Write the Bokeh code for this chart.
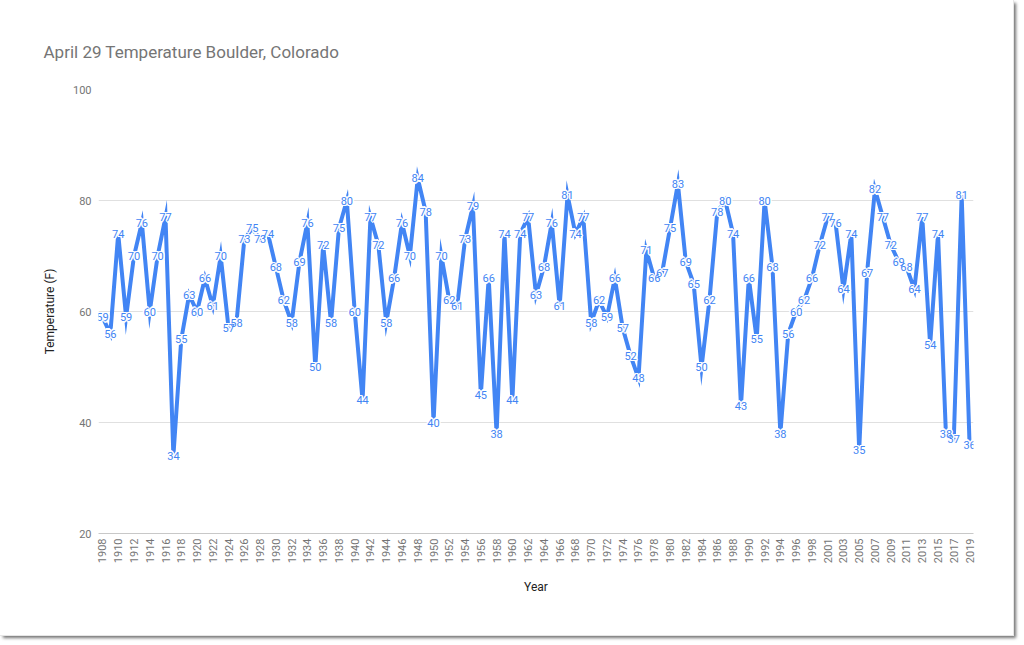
from bokeh.plotting import figure
from bokeh.models import ColumnDataSource, FixedTicker, Range1d
from bokeh.core.properties import value
from bokeh.embed import file_html
from bokeh.resources import INLINE
import math

years = [str(y) for y in range(1908, 1999)] + ["1999"] + [str(y) for y in range(2001, 2020)]
temps = [
    59, 56, 74, 59, 70, 76, 60, 70, 77, 34,   # 1908-1917
    55, 63, 60, 66, 61, 70, 57, 58, 73, 75,   # 1918-1927
    73, 74, 68, 62, 58, 69, 76, 50, 72, 58,   # 1928-1937
    75, 80, 60, 44, 77, 72, 58, 66, 76, 70,   # 1938-1947
    84, 78, 40, 70, 62, 61, 73, 79, 45, 66,   # 1948-1957
    38, 74, 44, 74, 77, 63, 68, 76, 61, 81,   # 1958-1967
    74, 77, 58, 62, 59, 66, 57, 52, 48, 71,   # 1968-1977
    66, 67, 75, 83, 69, 65, 50, 62, 78, 80,   # 1978-1987
    74, 43, 66, 55, 80, 68, 38, 56, 60, 62,   # 1988-1997
    66, 72,                                   # 1998, 1999
    77, 76, 64, 74, 35, 67, 82, 77, 72, 69,   # 2001-2010
    68, 64, 77, 54, 74, 38, 37, 81, 36,       # 2011-2019
]
y_ticks = [20, 40, 60, 80, 100]
title_text = "April 29 Temperature Boulder, Colorado"
x_title = "Year"
y_title = "Temperature (F)"

idx = list(range(len(years)))
source = ColumnDataSource(dict(x=idx, y=temps, label=[str(t) for t in temps]))

BLUE = "#4285F4"
FONT = "Roboto"

p = figure(width=1013, height=635, output_backend="svg", toolbar_location=None,
           x_range=Range1d(-0.5, len(years) - 0.5), y_range=Range1d(20, 100),
           min_border_left=98, min_border_right=40, min_border_top=89, min_border_bottom=102)
p.styles = {"box-shadow": "0 0 0 1px #e6e6e6, 3px 3px 3px rgba(0,0,0,0.55)"}
p.outline_line_color = None
p.background_fill_color = "white"
p.border_fill_color = "white"

p.title.text = title_text
p.title.text_font = FONT
p.title.text_font_size = "17px"
p.title.text_font_style = "normal"
p.title.text_color = "#757575"
p.title.offset = -55
p.title.standoff = 55

p.line(x="x", y="y", source=source, line_color=BLUE, line_width=4, line_join="miter")

offs = [(-1.5, 0), (1.5, 0), (0, -1.5), (0, 1.5), (-1, -1), (1, 1), (-1, 1), (1, -1)]
for dx, dy in offs:
    p.text(x="x", y="y", text="label", source=source, x_offset=dx, y_offset=dy,
           text_color="white", text_font=value(FONT), text_font_size="11px",
           text_align="center", text_baseline="middle")
p.text(x="x", y="y", text="label", source=source, text_color=BLUE,
       text_font=value(FONT), text_font_size="11px",
       text_align="center", text_baseline="middle")

# axes
p.xgrid.grid_line_color = None
p.ygrid.grid_line_color = "#e0e0e0"
p.ygrid.grid_line_width = 1

p.yaxis.ticker = FixedTicker(ticks=y_ticks)
p.yaxis.axis_line_color = None
p.yaxis.major_tick_line_color = None
p.yaxis.minor_tick_line_color = None
p.yaxis.major_tick_out = 0
p.yaxis.minor_tick_out = 0
p.yaxis.major_label_text_font = FONT
p.yaxis.major_label_text_font_size = "11px"
p.yaxis.major_label_text_color = "#757575"
p.yaxis.major_label_standoff = 7
p.yaxis.axis_label = y_title
p.yaxis.axis_label_text_font = FONT
p.yaxis.axis_label_text_font_size = "12px"
p.yaxis.axis_label_text_font_style = "normal"
p.yaxis.axis_label_text_color = "#222222"
p.yaxis.axis_label_standoff = 13

even = [i for i in idx if i % 2 == 0]
p.xaxis.ticker = FixedTicker(ticks=even)
p.xaxis.major_label_overrides = {i: years[i] for i in even}
p.xaxis.major_label_orientation = math.pi / 2
p.xaxis.axis_line_color = "#c8c8c8"
p.xaxis.major_tick_line_color = None
p.xaxis.minor_tick_line_color = None
p.xaxis.major_tick_out = 0
p.xaxis.minor_tick_out = 0
p.xaxis.major_label_text_font = FONT
p.xaxis.major_label_text_font_size = "11px"
p.xaxis.major_label_text_color = "#757575"
p.xaxis.major_label_standoff = 5
p.xaxis.axis_label = x_title
p.xaxis.axis_label_text_font = FONT
p.xaxis.axis_label_text_font_size = "12px"
p.xaxis.axis_label_text_font_style = "normal"
p.xaxis.axis_label_text_color = "#222222"
p.xaxis.axis_label_standoff = 14

open("out.html", "w").write(file_html(p, INLINE))
